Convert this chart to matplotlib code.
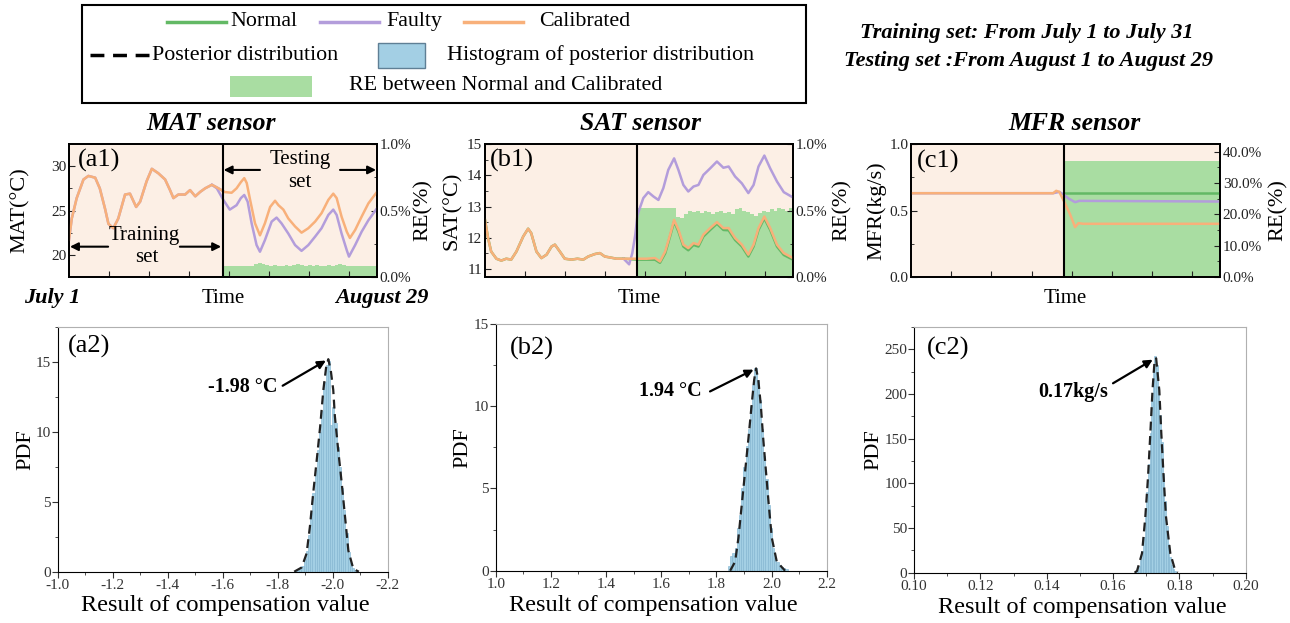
import matplotlib
matplotlib.use("Agg")
import matplotlib.pyplot as plt
import numpy as np
from matplotlib.lines import Line2D
from matplotlib.patches import Rectangle
from matplotlib.ticker import MultipleLocator, PercentFormatter

plt.rcParams["font.family"] = ["Liberation Serif", "DejaVu Serif"]
plt.rcParams["axes.unicode_minus"] = False

GREEN = "#63b965"
PURPLE = "#b39ddb"
ORANGE = "#f8b07a"
RE_GREEN = "#a9dda2"
BG = "#fcefe5"
HIST_BLUE = "#a3cfe4"
HIST_EDGE = "#7fb2cf"

# ---------------- MAT sensor (a1) ----------------
a1_split = 0.5
a1_t_train = [0, 0.009, 0.025, 0.047, 0.063, 0.085, 0.10, 0.117, 0.128, 0.144, 0.16, 0.182, 0.198,
              0.218, 0.231, 0.252, 0.269, 0.29, 0.312, 0.328, 0.339, 0.355, 0.377, 0.393, 0.41, 0.426,
              0.442, 0.464, 0.48, 0.5]
a1_train = [21.7, 24.1, 26.4, 28.5, 28.9, 28.7, 27.5, 25.2, 23.5, 23.0, 24.1, 26.8, 26.9,
            25.4, 26.0, 28.3, 29.7, 29.2, 28.5, 27.3, 26.4, 26.8, 26.8, 27.3, 26.6, 27.1,
            27.5, 27.9, 27.6, 27.2]
a1_t_calib = [0.501, 0.528, 0.544, 0.558, 0.569, 0.577, 0.588, 0.604, 0.62, 0.636, 0.653, 0.669, 0.68,
              0.696, 0.712, 0.734, 0.755, 0.777, 0.799, 0.82, 0.842, 0.858, 0.869, 0.885, 0.902, 0.912,
              0.929, 0.95, 0.972, 1.0]
a1_calib = [27.1, 27.0, 27.5, 28.2, 28.65, 28.1, 26.2, 23.55, 22.2, 23.55, 25.4, 26.1, 25.6,
            25.1, 24.1, 23.2, 22.5, 23.0, 23.75, 24.7, 26.2, 26.9, 26.4, 24.3, 22.6, 21.9,
            22.8, 24.3, 25.8, 27.1]
a1_t_faulty = [0.464, 0.48, 0.501, 0.522, 0.544, 0.558, 0.569, 0.58, 0.593, 0.609, 0.62, 0.636, 0.658,
               0.674, 0.69, 0.712, 0.734, 0.755, 0.777, 0.799, 0.82, 0.842, 0.858, 0.869, 0.885, 0.902,
               0.909, 0.929, 0.95, 0.972, 1.0]
a1_faulty = [27.9, 27.5, 26.2, 25.1, 25.6, 26.4, 26.75, 26.0, 23.55, 21.1, 20.35, 21.65, 23.75,
             24.2, 23.55, 22.4, 21.1, 20.45, 21.1, 22.05, 23.0, 24.5, 25.1, 24.5, 22.4, 20.5,
             19.8, 21.1, 22.6, 23.9, 25.25]
a1_re = [0.08, 0.085, 0.08, 0.08, 0.085, 0.08, 0.08, 0.085, 0.1, 0.105, 0.1, 0.09, 0.085, 0.09,
         0.085, 0.08, 0.09, 0.085, 0.09, 0.095, 0.09, 0.085, 0.09, 0.085, 0.09, 0.085, 0.085, 0.09,
         0.085, 0.09, 0.1, 0.09, 0.085, 0.08, 0.085, 0.08, 0.08, 0.085, 0.08, 0.08]

# ---------------- SAT sensor (b1) ----------------
b1_split = 0.495
b1_t_train = [0, 0.01, 0.02, 0.037, 0.053, 0.069, 0.085, 0.102, 0.124, 0.14, 0.15, 0.167, 0.183, 0.2,
              0.216, 0.227, 0.243, 0.259, 0.281, 0.3, 0.319, 0.335, 0.357, 0.373, 0.389, 0.406, 0.427,
              0.45]
b1_train = [12.57, 11.99, 11.56, 11.33, 11.27, 11.33, 11.3, 11.56, 12.04, 12.29, 12.15, 11.56, 11.35,
            11.46, 11.72, 11.78, 11.56, 11.33, 11.3, 11.33, 11.3, 11.4, 11.48, 11.51, 11.4, 11.37,
            11.33, 11.33]
b1_t_test = [0.45, 0.495, 0.525, 0.552, 0.568, 0.585, 0.601, 0.614, 0.628, 0.644, 0.66, 0.677, 0.693,
             0.709, 0.731, 0.753, 0.774, 0.791, 0.812, 0.834, 0.855, 0.872, 0.888, 0.907, 0.926, 0.948,
             0.97, 1.0]
b1_calib = [11.33, 11.33, 11.33, 11.35, 11.24, 11.56, 12.1, 12.57, 12.26, 11.78, 11.67, 11.83, 11.78,
            12.1, 12.31, 12.5, 12.31, 12.31, 11.99, 11.78, 11.46, 11.78, 12.31, 12.68, 12.31, 11.78,
            11.51, 11.35]
b1_normal = [11.33, 11.3, 11.3, 11.3, 11.2, 11.5, 12.05, 12.52, 12.2, 11.72, 11.6, 11.77, 11.72,
             12.04, 12.25, 12.45, 12.25, 12.24, 11.93, 11.72, 11.4, 11.72, 12.25, 12.62, 12.25, 11.72,
             11.45, 11.3]
b1_t_faulty = [0.45, 0.468, 0.478, 0.488, 0.495, 0.514, 0.53, 0.547, 0.563, 0.579, 0.595, 0.614, 0.628,
               0.644, 0.66, 0.677, 0.693, 0.709, 0.731, 0.753, 0.774, 0.791, 0.812, 0.834, 0.855, 0.872,
               0.888, 0.907, 0.926, 0.948, 0.97, 1.0]
b1_faulty = [11.33, 11.15, 11.5, 12.1, 12.73, 13.27, 13.46, 13.32, 13.21, 13.59, 14.17, 14.54, 14.17,
             13.69, 13.48, 13.64, 13.69, 14.01, 14.22, 14.44, 14.24, 14.28, 13.96, 13.74, 13.43, 13.69,
             14.28, 14.63, 14.22, 13.8, 13.46, 13.29]
b1_re = [0.52, 0.52, 0.52, 0.52, 0.52, 0.52, 0.52, 0.52, 0.52, 0.52, 0.45, 0.44, 0.47, 0.5, 0.49,
         0.5, 0.48, 0.5, 0.49, 0.47, 0.49, 0.5, 0.48, 0.49, 0.47, 0.51, 0.52, 0.5, 0.49, 0.47,
         0.46, 0.48, 0.5, 0.49, 0.51, 0.5, 0.52, 0.51, 0.5, 0.52]

# ---------------- MFR sensor (c1) ----------------
c1_split = 0.495
c1_t_train = [0, 0.46]
c1_train = [0.63, 0.63]
c1_t_calib = [0.46, 0.47, 0.48, 0.495, 0.515, 0.531, 0.542, 0.558, 1.0]
c1_calib = [0.63, 0.648, 0.64, 0.57, 0.47, 0.375, 0.405, 0.40, 0.40]
c1_t_faulty = [0.46, 0.48, 0.495, 0.51, 0.531, 0.545, 1.0]
c1_faulty = [0.63, 0.64, 0.6175, 0.59, 0.5625, 0.5725, 0.5675]
c1_t_normal = [0.495, 1.0]
c1_normal = [0.63, 0.63]
c1_re = 37.1

# ---------------- posterior histograms ----------------
a2_first, a2_step = -1.866, -0.008
a2_hist = [0.05, 0.1, 0.2, 0.4, 0.9, 1.5, 2.6, 4.2, 5.6, 7.3, 8.7, 10.0, 11.5, 13.6, 14.8, 15.1,
           10.5, 11.8, 10.6, 8.9, 7.5, 6.0, 4.4, 2.8, 1.4, 0.6, 0.3, 0.1]
a2_curve_x = [-1.86, -1.887, -1.905, -1.917, -1.929, -1.942, -1.954, -1.966, -1.976, -1.984, -1.993,
              -2.002, -2.008, -2.02, -2.033, -2.045, -2.057, -2.075, -2.095]
a2_curve_y = [0, 0.3, 1.3, 3.2, 5.6, 8.0, 10.3, 13.0, 14.6, 15.2, 14.4, 13.0, 11.1, 8.7, 6.3, 3.9,
              1.5, 0.2, 0]
a2_peak = (-1.984, 15.2)

b2_first, b2_step = 1.846, 0.008
b2_hist = [0.3, 0.9, 1.1, 1.4, 2.6, 3.4, 5.0, 6.3, 7.6, 8.6, 10.0, 11.3, 12.3, 11.6, 10.4, 8.6,
           7.0, 5.6, 4.0, 2.6, 1.4, 0.8, 0.5, 0.35, 0.25, 0.15, 0.1]
b2_curve_x = [1.85, 1.868, 1.88, 1.892, 1.904, 1.916, 1.928, 1.937, 1.944, 1.952, 1.961, 1.97, 1.98,
              1.99, 2.001, 2.019, 2.049]
b2_curve_y = [0, 0.55, 2.0, 4.0, 6.0, 8.0, 10.1, 11.6, 12.3, 11.6, 10.1, 8.0, 6.0, 4.0, 2.0, 0.55, 0]
b2_peak = (1.944, 12.3)

c2_first, c2_step = 0.16725, 0.0005
c2_hist = [3, 8, 14, 24, 40, 62, 90, 122, 156, 192, 228, 242, 232, 205, 176, 146, 110, 80, 52,
           32, 18, 9, 4, 2]
c2_curve_x = [0.1665, 0.16724, 0.16874, 0.16974, 0.17055, 0.17125, 0.1719, 0.1725, 0.173, 0.17396,
              0.17456, 0.17526, 0.17597, 0.17727, 0.17878, 0.1795]
c2_curve_y = [0, 2, 21.7, 62.6, 107, 156, 204, 236, 240, 204, 156, 107, 62.6, 21.7, 2, 0]
c2_peak = (0.1727, 240)

W, H = 1290, 623
fig = plt.figure(figsize=(W / 100, H / 100), dpi=100)


def rect(l, t, r, b):
    return [l / W, 1 - b / H, (r - l) / W, (b - t) / H]


# overlay in pixel coordinates for the free text and the legend box
ov = fig.add_axes([0, 0, 1, 1])
ov.set_xlim(0, W)
ov.set_ylim(H, 0)
ov.axis("off")


def time_panel(box, ylim, ymaj, ymin, re_top, re_maj, re_min):
    ax = fig.add_axes(rect(*box))
    ax_re = ax.twinx()
    ax.set_zorder(ax_re.get_zorder() + 1)
    ax.patch.set_visible(False)
    ax_re.patch.set_visible(True)
    ax_re.set_facecolor(BG)
    ax.set_xlim(0, 1)
    ax.set_ylim(*ylim)
    ax_re.set_ylim(0, re_top)
    ax.set_xticks([0.13, 0.26, 0.39, 0.52, 0.65, 0.78, 0.91])
    ax.set_xticklabels([])
    ax.yaxis.set_major_locator(MultipleLocator(ymaj))
    ax.yaxis.set_minor_locator(MultipleLocator(ymin))
    ax_re.yaxis.set_major_locator(MultipleLocator(re_maj))
    ax_re.yaxis.set_minor_locator(MultipleLocator(re_min))
    ax_re.yaxis.set_major_formatter(PercentFormatter(xmax=100, decimals=1))
    for a in (ax, ax_re):
        a.tick_params(which="both", direction="in", labelsize=11, colors="#222222", pad=2)
        a.tick_params(which="major", length=4)
        a.tick_params(which="minor", length=2)
        for s in a.spines.values():
            s.set_linewidth(1.3)
    return ax, ax_re


def re_bars(ax_re, split, values):
    n = len(values)
    w = (1 - split) / n
    pos = split + w * (np.arange(n) + 0.5)
    ax_re.bar(pos, values, width=w * 1.02, color=RE_GREEN, linewidth=0)


def side_labels(ax, ylabel, yl_x, re_x, tag, tag_x, tag_y):
    ax.text(yl_x, 0.5, ylabel, transform=ax.transAxes, rotation=90, ha="center", va="center",
            fontsize=16)
    ax.text(re_x, 0.5, "RE(%)", transform=ax.transAxes, rotation=90, ha="center", va="center",
            fontsize=16)
    ax.text(tag_x, tag_y, tag, transform=ax.transAxes, ha="left", va="center", fontsize=19)
    ax.text(0.5, -0.16, "Time", transform=ax.transAxes, ha="center", va="center", fontsize=15)


# ---- (a1) ----
ax, ax_re = time_panel((69, 144, 377, 277), (17.5, 32.5), 5, 2.5, 1.0, 0.5, 0.25)
re_bars(ax_re, a1_split, a1_re)
ax.plot(a1_t_train, a1_train, color=PURPLE, lw=1.8)
ax.plot(a1_t_faulty, a1_faulty, color=PURPLE, lw=1.8)
ax.plot(a1_t_train + a1_t_calib, a1_train + a1_calib, color=ORANGE, lw=1.8)
ax.axvline(a1_split, color="black", lw=1.5)
side_labels(ax, "MAT(°C)", -0.159, 1.15, "(a1)", 0.03, 0.88)
ax.text(0.75, 0.88, "Testing", transform=ax.transAxes, ha="center", va="center", fontsize=15)
ax.text(0.75, 0.707, "set", transform=ax.transAxes, ha="center", va="center", fontsize=15)
ax.text(0.243, 0.31, "Training", transform=ax.transAxes, ha="center", va="center", fontsize=15)
ax.text(0.252, 0.143, "set", transform=ax.transAxes, ha="center", va="center", fontsize=15)
arrow = dict(arrowstyle="-|>", color="black", lw=1.5, mutation_scale=12, shrinkA=0, shrinkB=0)
for x0, x1, y in [(0.62, 0.502, 0.805), (0.88, 0.997, 0.805), (0.127, 0.003, 0.228), (0.36, 0.494, 0.228)]:
    ax.annotate("", xy=(x1, y), xytext=(x0, y), xycoords="axes fraction", arrowprops=arrow)

# ---- (b1) ----
ax, ax_re = time_panel((485, 144, 793, 277), (10.745, 15.0), 1, 0.5, 1.0, 0.5, 0.25)
re_bars(ax_re, b1_split, b1_re)
ax.plot(b1_t_train, b1_train, color=GREEN, lw=1.8)
ax.plot(b1_t_test, b1_normal, color=GREEN, lw=1.8)
ax.plot(b1_t_faulty, b1_faulty, color=PURPLE, lw=1.8)
ax.plot(b1_t_train + b1_t_test, b1_train + b1_calib, color=ORANGE, lw=1.8)
ax.axvline(b1_split, color="black", lw=1.5)
side_labels(ax, "SAT(°C)", -0.105, 1.16, "(b1)", 0.016, 0.88)

# ---- (c1) ----
ax, ax_re = time_panel((911, 144, 1220, 277), (0, 1.0), 0.5, 0.25, 42.5, 10, 5)
ax_re.bar((c1_split + 1) / 2, c1_re, width=1 - c1_split, color=RE_GREEN, linewidth=0)
ax.plot(c1_t_normal, c1_normal, color=GREEN, lw=1.8)
ax.plot(c1_t_train + c1_t_faulty, c1_train + c1_faulty, color=PURPLE, lw=1.8)
ax.plot(c1_t_train + c1_t_calib, c1_train + c1_calib, color=ORANGE, lw=1.8)
ax.axvline(c1_split, color="black", lw=1.5)
side_labels(ax, "MFR(kg/s)", -0.113, 1.19, "(c1)", 0.018, 0.867)


# ---- posterior panels ----
def hist_panel(box, first, step, heights, cx, cy, xlim, xmaj, xmin, ylim, ymaj, ymin,
               tag, tag_x, tag_y, pdf_x, xl_x, peak, note, note_xy, tail_xy):
    ax = fig.add_axes(rect(*box))
    centers = first + step * np.arange(len(heights))
    ax.bar(centers, heights, width=abs(step), color=HIST_BLUE, edgecolor=HIST_EDGE, linewidth=0.4)
    ax.plot(cx, cy, color="#222222", lw=1.6, ls=(0, (4, 2.5)))
    ax.set_xlim(*xlim)
    ax.set_ylim(*ylim)
    ax.xaxis.set_major_locator(MultipleLocator(xmaj))
    ax.xaxis.set_minor_locator(MultipleLocator(xmin))
    ax.yaxis.set_major_locator(MultipleLocator(ymaj))
    ax.yaxis.set_minor_locator(MultipleLocator(ymin))
    ax.tick_params(which="both", direction="out", labelsize=11, colors="#333333", pad=1)
    ax.tick_params(which="major", length=4)
    ax.tick_params(which="minor", length=2)
    for side in ("top", "right"):
        ax.spines[side].set_color("#b0b0b0")
    ax.text(tag_x, tag_y, tag, transform=ax.transAxes, ha="left", va="center", fontsize=19)
    ax.text(pdf_x, 0.5, "PDF", transform=ax.transAxes, rotation=90, ha="center", va="center",
            fontsize=16)
    ax.text(xl_x, -0.14, "Result of compensation value", transform=ax.transAxes, ha="center",
            va="center", fontsize=17.5)
    ax.text(*note_xy, note, ha="center", va="center", fontsize=14.5, fontweight="bold")
    ax.annotate("", xy=peak, xytext=tail_xy,
                arrowprops=dict(arrowstyle="-|>", color="black", lw=1.6, mutation_scale=12,
                                shrinkA=0, shrinkB=2))
    return ax


def fmt1(v, _):
    return f"{v:.1f}"


ax = hist_panel((57.7, 327, 387.7, 571.7), a2_first, a2_step, a2_hist, a2_curve_x, a2_curve_y,
                (-1.0, -2.2), 0.2, 0.1, (0, 17.5), 5, 2.5, "(a2)", 0.032, 0.92, -0.097, 0.507,
                a2_peak, "-1.98 °C", (-1.674, 13.2), (-1.818, 13.3))
ax.xaxis.set_major_formatter(fmt1)
ax = hist_panel((495.7, 324, 826.7, 570.7), b2_first, b2_step, b2_hist, b2_curve_x, b2_curve_y,
                (1.0, 2.2), 0.2, 0.1, (0, 15), 5, 2.5, "(b2)", 0.043, 0.90, -0.10, 0.476,
                b2_peak, "1.94 °C", (1.635, 10.9), (1.777, 10.9))
ax.xaxis.set_major_formatter(fmt1)
ax = hist_panel((914, 327, 1245.7, 572.7), c2_first, c2_step, c2_hist, c2_curve_x, c2_curve_y,
                (0.10, 0.20), 0.02, 0.01, (0, 275), 50, 25, "(c2)", 0.04, 0.913, -0.12, 0.506,
                c2_peak, "0.17kg/s", (0.148, 202), (0.160, 212))
ax.xaxis.set_major_formatter(lambda v, _: f"{v:.2f}")

# ---- titles and free text ----
for x, s in [(211, "MAT sensor"), (641, "SAT sensor"), (1074, "MFR sensor")]:
    ov.text(x, 123, s, ha="center", va="center", fontsize=18.5, fontweight="bold", style="italic")
ov.text(51.7, 298, "July 1", ha="center", va="center", fontsize=16, fontweight="bold", style="italic")
ov.text(381.7, 298, "August 29", ha="center", va="center", fontsize=16, fontweight="bold",
        style="italic")
ov.text(1026.5, 33, "Training set: From July 1 to July 31", ha="center", va="center", fontsize=16,
        fontweight="bold", style="italic")
ov.text(1028, 61, "Testing set :From August 1 to August 29", ha="center", va="center",
        fontsize=16, fontweight="bold", style="italic")

# ---- legend box ----
LEG_FS = 15.8
ov.add_patch(Rectangle((82, 5), 724, 98, fill=False, edgecolor="black", lw=1.5))
ov.add_line(Line2D([167, 226], [21.7, 21.7], color=GREEN, lw=2.5))
ov.text(230, 21.7, "Normal", ha="left", va="center", fontsize=LEG_FS)
ov.add_line(Line2D([320, 379], [21.7, 21.7], color=PURPLE, lw=2.5))
ov.text(386, 21.7, "Faulty", ha="left", va="center", fontsize=LEG_FS)
ov.add_line(Line2D([464, 523], [21.7, 21.7], color=ORANGE, lw=2.5))
ov.text(539, 21.7, "Calibrated", ha="left", va="center", fontsize=LEG_FS)
ov.add_line(Line2D([90, 149], [55, 55], color="black", lw=2.5, ls=(0, (4, 2.5))))
ov.text(152, 55, "Posterior distribution", ha="left", va="center", fontsize=LEG_FS)
ov.add_patch(Rectangle((378, 42.7), 47, 25.6, facecolor=HIST_BLUE, edgecolor="#5f7f95", lw=1))
ov.text(447, 55, "Histogram of posterior distribution", ha="left", va="center", fontsize=LEG_FS)
ov.add_patch(Rectangle((230, 76), 82, 21, facecolor=RE_GREEN, edgecolor="none"))
ov.text(349, 86, "RE between Normal and Calibrated", ha="left", va="center", fontsize=LEG_FS)

fig.savefig("out.png", dpi=100)
